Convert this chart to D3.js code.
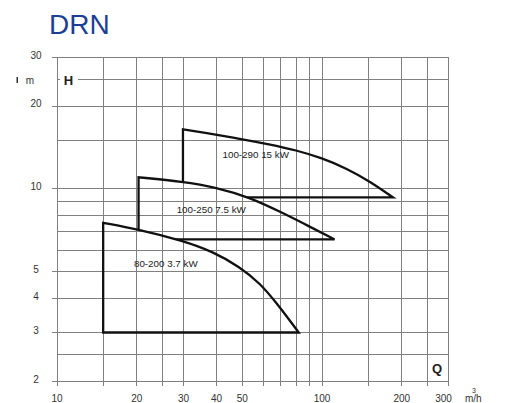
<!DOCTYPE html>
<html>
<head>
<meta charset="utf-8">
<script src="https://cdn.jsdelivr.net/npm/d3@7/dist/d3.min.js"></script>
<style>
  html, body { margin: 0; padding: 0; background: #fff; }
  svg { display: block; font-family: "Liberation Sans", Arial, sans-serif; }
</style>
</head>
<body>
<svg id="chart" width="509" height="403"></svg>
<script>
// ---- data ----
const title = "DRN";
const qTicks = [10, 20, 30, 40, 50, 100, 200, 300];
const hTicks = [2, 3, 4, 5, 10, 20, 30];
const qGrid = [10, 15, 20, 25, 30, 40, 50, 60, 70, 80, 90, 100, 150, 200, 250, 300];
const hGrid = [2, 2.5, 3, 4, 5, 6, 7, 8, 9, 10, 15, 20, 25, 30];

const pumpNames = ["80-200 3.7 kW", "100-250 7.5 kW", "100-290 15 kW"];
const pump1Q = [15, 20.3, 30, 39, 49, 58.6, 67.7, 76, 82];
const pump1H = [7.5, 7.11, 6.46, 5.89, 5.2, 4.53, 3.83, 3.31, 3.0];
const pump1Base = 3.0;
const pump2Q = [20.4, 30, 40, 53.7, 71.7, 90.4, 112];
const pump2H = [10.98, 10.58, 10.1, 9.28, 8.13, 7.26, 6.53];
const pump2Base = 6.53;
const pump3Q = [30, 35.7, 48, 63.9, 80.1, 100.3, 124.7, 152.3, 186];
const pump3H = [16.4, 15.97, 15.22, 14.45, 13.77, 12.9, 11.81, 10.6, 9.28];
const pump3Base = 9.28;
const labelQ = [19.6, 28.4, 42.3];   // label start positions
const labelH = [5.2, 8.16, 12.95];

// ---- drawing ----
const svg = d3.select("#chart");
const x = d3.scaleLog().domain([10, 300]).range([56.5, 448]);
const y = d3.scaleLog().domain([2, 30]).range([381, 57]);
const px = v => Math.round(x(v)) + 0.5;
const py = v => Math.round(y(v)) + 0.5;
const gridColor = "#808080";

svg.append("text")
  .attr("x", 49).attr("y", 33.5)
  .attr("font-size", 28).attr("fill", "#1c3f95")
  .text(title);

// grid
const grid = svg.append("g").attr("shape-rendering", "crispEdges");
grid.selectAll("line.v").data(qGrid).join("line")
  .attr("class", "v")
  .attr("x1", px).attr("x2", px)
  .attr("y1", py(30)).attr("y2", py(2) + 4)
  .attr("stroke", gridColor).attr("stroke-width", 1);
grid.selectAll("line.h").data(hGrid).join("line")
  .attr("class", "h")
  .attr("x1", px(10)).attr("x2", px(300))
  .attr("y1", py).attr("y2", py)
  .attr("stroke", gridColor).attr("stroke-width", 1);

// axes (labels + small left ticks)
const yAxis = d3.axisLeft(y).tickValues(hTicks).tickFormat(d3.format("d")).tickSize(6).tickPadding(0);
const gy = svg.append("g").attr("transform", `translate(${px(10)},0)`).call(yAxis);
gy.select(".domain").remove();
gy.selectAll(".tick line").attr("stroke", gridColor).attr("shape-rendering", "crispEdges");
gy.selectAll(".tick text")
  .attr("x", -21.5).attr("dy", "0.32em").attr("y", -2)
  .attr("text-anchor", "middle")
  .attr("font-family", "Liberation Sans, Arial, sans-serif")
  .attr("font-size", 10).attr("fill", "#333");

const xAxis = d3.axisBottom(x).tickValues(qTicks).tickFormat(d3.format("d")).tickSize(0).tickPadding(0);
const gx = svg.append("g").attr("transform", `translate(0,${py(2)})`).call(xAxis);
gx.select(".domain").remove();
gx.selectAll(".tick text")
  .attr("y", 17.5).attr("dy", "0.32em")
  .attr("dx", d => d === 300 ? -5 : 0)
  .attr("font-family", "Liberation Sans, Arial, sans-serif")
  .attr("font-size", 10).attr("fill", "#333");

// unit labels
svg.append("text").attr("x", 465).attr("y", 402).attr("font-size", 10).attr("fill", "#333").text("m/h");
svg.append("text").attr("x", 472).attr("y", 393).attr("font-size", 7).attr("fill", "#333").text("3");
svg.append("text").attr("x", 30).attr("y", 84).attr("text-anchor", "middle").attr("font-size", 10).attr("fill", "#333").text("m");
svg.append("rect").attr("x", 16.5).attr("y", 77).attr("width", 1.5).attr("height", 6).attr("fill", "#333");

// H label with white background
svg.append("rect").attr("x", 60).attr("y", 73).attr("width", 18).attr("height", 14).attr("fill", "#fff");
svg.append("text").attr("x", 68.5).attr("y", 84.5).attr("text-anchor", "middle")
  .attr("font-size", 13).attr("font-weight", "bold").attr("fill", "#222").text("H");
svg.append("text").attr("x", 437).attr("y", 373).attr("text-anchor", "middle")
  .attr("font-size", 13).attr("font-weight", "bold").attr("fill", "#222").text("Q");

// pump curves
const pumps = [
  { q: pump1Q, h: pump1H, base: pump1Base },
  { q: pump2Q, h: pump2H, base: pump2Base },
  { q: pump3Q, h: pump3H, base: pump3Base }
];
const line = d3.line().x(d => x(d[0])).y(d => y(d[1])).curve(d3.curveBasis);
function shapePath(p) {
  const pts = p.q.map((q, i) => [q, p.h[i]]);
  const c = line(pts).replace(/^M/, "L");
  return `M${x(p.q[0])},${y(p.base)}` + c + "Z";
}

const defs = svg.append("defs");
[1, 2].forEach(k => {
  const m = defs.append("mask").attr("id", "mask" + k).attr("maskUnits", "userSpaceOnUse")
    .attr("x", 0).attr("y", 0).attr("width", 509).attr("height", 403);
  m.append("rect").attr("width", 509).attr("height", 403).attr("fill", "#fff");
  for (let j = 0; j < k; j++) {
    m.append("path").attr("d", shapePath(pumps[j])).attr("fill", "#000");
  }
});

[2, 1, 0].forEach(i => {
  const p = svg.append("path")
    .attr("d", shapePath(pumps[i]))
    .attr("fill", "none").attr("stroke", "#111")
    .attr("stroke-width", 2.3).attr("stroke-linejoin", "miter");
  if (i > 0) p.attr("mask", `url(#mask${i})`);
});

svg.selectAll("text.pl").data(pumpNames).join("text")
  .attr("class", "pl")
  .attr("x", (d, i) => x(labelQ[i]))
  .attr("y", (d, i) => y(labelH[i]))
  .attr("font-size", 9.8).attr("fill", "#222")
  .text(d => d);
</script>
</body>
</html>
